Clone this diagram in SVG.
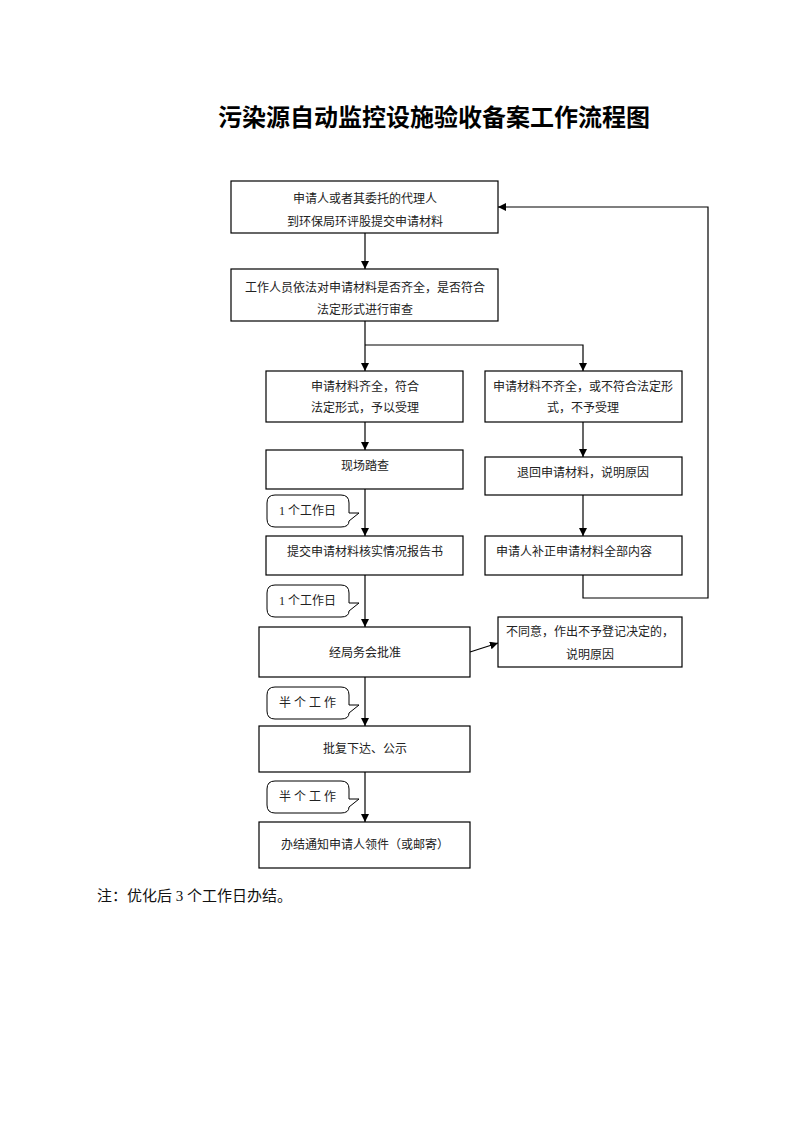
<svg xmlns="http://www.w3.org/2000/svg" width="793" height="1122" viewBox="0 0 793 1122">
<defs>
<marker id="ah" markerWidth="8" markerHeight="8" refX="8" refY="4" orient="auto" markerUnits="userSpaceOnUse">
<path d="M0,0 L8,4 L0,8 Z" fill="#000"/>
</marker>
<style>
.box{fill:#fff;stroke:#000;stroke-width:1.2}
.t{font-family:"Liberation Serif","Noto Sans CJK SC",serif;font-size:12px;fill:#222;text-anchor:middle}
.tl{font-family:"Liberation Serif","Noto Sans CJK SC",serif;font-size:12px;fill:#222}
.c{fill:#fff;stroke:#000;stroke-width:1}
.ln{fill:none;stroke:#000;stroke-width:1.2}
</style>
</defs>
<rect width="793" height="1122" fill="#fff"/>
<text x="434" y="126" font-family="Noto Sans CJK SC,sans-serif" font-size="24" font-weight="bold" text-anchor="middle" fill="#000">污染源自动监控设施验收备案工作流程图</text>

<g id="connectors">
<line class="ln" x1="365" y1="233" x2="365" y2="269" marker-end="url(#ah)"/>
<line class="ln" x1="365" y1="321" x2="365" y2="371" marker-end="url(#ah)"/>
<polyline class="ln" points="365,345 583,345 583,371" marker-end="url(#ah)"/>
<line class="ln" x1="365" y1="422" x2="365" y2="450" marker-end="url(#ah)"/>
<line class="ln" x1="365" y1="489" x2="365" y2="536" marker-end="url(#ah)"/>
<line class="ln" x1="583" y1="422" x2="583" y2="457" marker-end="url(#ah)"/>
<line class="ln" x1="583" y1="495" x2="583" y2="536" marker-end="url(#ah)"/>
<polyline class="ln" points="583,575 583,598 708,598 708,207 498,207" marker-end="url(#ah)"/>
<line class="ln" x1="365" y1="575" x2="365" y2="627" marker-end="url(#ah)"/>
<line class="ln" x1="470" y1="652" x2="498" y2="643" marker-end="url(#ah)"/>
<line class="ln" x1="365" y1="677" x2="365" y2="726" marker-end="url(#ah)"/>
<line class="ln" x1="365" y1="772" x2="365" y2="822" marker-end="url(#ah)"/>
</g>

<g id="n1"><rect class="box" x="231" y="181" width="267" height="52"/>
<text class="t" x="365" y="203">申请人或者其委托的代理人</text>
<text class="t" x="365" y="226">到环保局环评股提交申请材料</text></g>

<g id="n2"><rect class="box" x="231" y="269" width="267" height="52"/>
<text class="t" x="365" y="292">工作人员依法对申请材料是否齐全，是否符合</text>
<text class="t" x="365" y="314">法定形式进行审查</text></g>

<g id="n3"><rect class="box" x="266" y="371" width="197" height="51"/>
<text class="t" x="365" y="391">申请材料齐全，符合</text>
<text class="t" x="365" y="412">法定形式，予以受理</text></g>

<g id="n4"><rect class="box" x="485" y="371" width="197" height="51"/>
<text class="t" x="583" y="391">申请材料不齐全，或不符合法定形</text>
<text class="t" x="583" y="412">式，不予受理</text></g>

<g id="n5"><rect class="box" x="266" y="450" width="197" height="39"/>
<text class="t" x="365" y="470">现场踏查</text></g>

<g id="n6"><rect class="box" x="485" y="457" width="197" height="38"/>
<text class="t" x="583" y="477">退回申请材料，说明原因</text></g>

<g id="c1"><path class="c" d="M275,495 H341 Q349,495 349,503 V513 H359 L349,521 Q349,527 341,527 H275 Q267,527 267,519 V503 Q267,495 275,495 Z"/>
<text class="tl" x="279" y="515">1 个工作日</text></g>

<g id="n7"><rect class="box" x="266" y="536" width="197" height="39"/>
<text class="t" x="365" y="556">提交申请材料核实情况报告书</text></g>

<g id="n8"><rect class="box" x="485" y="536" width="197" height="39"/>
<text class="tl" x="496" y="556">申请人补正申请材料全部内容</text></g>

<g id="c2"><path class="c" d="M275,585 H341 Q349,585 349,593 V603 H359 L349,611 Q349,617 341,617 H275 Q267,617 267,609 V593 Q267,585 275,585 Z"/>
<text class="tl" x="279" y="605">1 个工作日</text></g>

<g id="n9"><rect class="box" x="259" y="627" width="211" height="50"/>
<text class="t" x="365" y="657">经局务会批准</text></g>

<g id="n10"><rect class="box" x="498" y="617" width="184" height="50"/>
<text class="t" x="590" y="636">不同意，作出不予登记决定的，</text>
<text class="t" x="590" y="659">说明原因</text></g>

<g id="c3"><path class="c" d="M275,687 H341 Q349,687 349,695 V705 H359 L349,713 Q349,719 341,719 H275 Q267,719 267,711 V695 Q267,687 275,687 Z"/>
<text class="tl" x="279" y="707">半 个 工 作</text></g>

<g id="n11"><rect class="box" x="259" y="726" width="211" height="46"/>
<text class="t" x="365" y="753">批复下达、公示</text></g>

<g id="c4"><path class="c" d="M275,781 H341 Q349,781 349,789 V799 H359 L349,807 Q349,813 341,813 H275 Q267,813 267,805 V789 Q267,781 275,781 Z"/>
<text class="tl" x="279" y="801">半 个 工 作</text></g>

<g id="n12"><rect class="box" x="259" y="822" width="211" height="46"/>
<text class="t" x="365" y="849">办结通知申请人领件（或邮寄）</text></g>

<text x="97" y="901" font-family="Liberation Serif,Noto Sans CJK SC,serif" font-size="15" fill="#111">注：优化后 3 个工作日办结。</text>
</svg>
